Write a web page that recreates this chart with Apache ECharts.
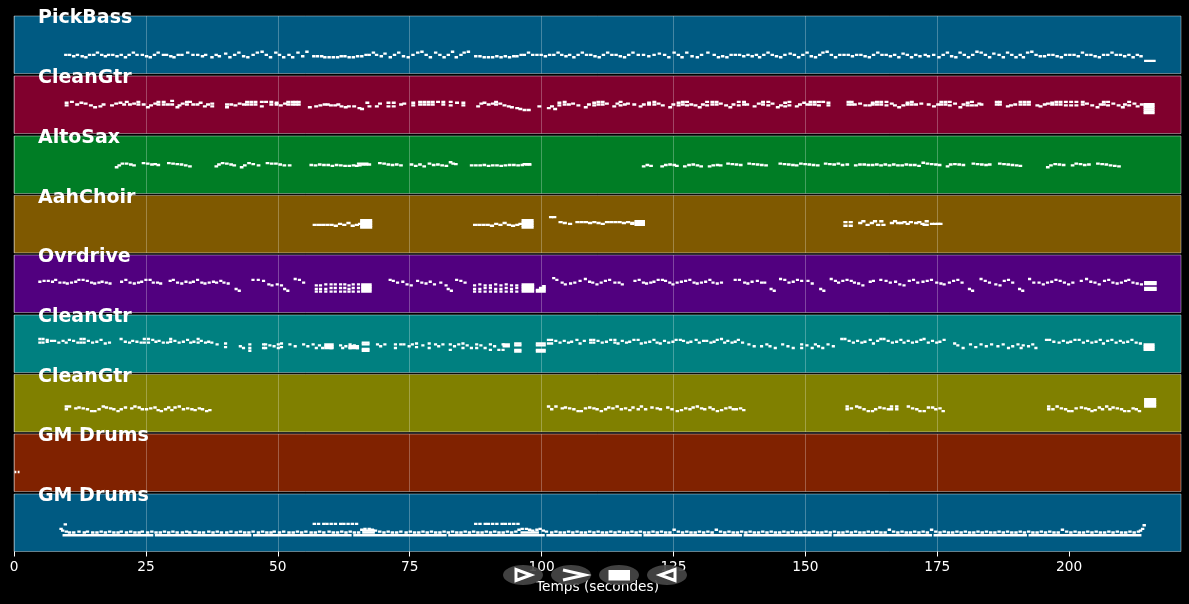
<!DOCTYPE html>
<html>
<head>
<meta charset="utf-8">
<title>Piano roll</title>
<style>
  html, body { margin: 0; padding: 0; background: #000; }
  #chart { width: 1189px; height: 604px; }
</style>
<script src="https://cdn.jsdelivr.net/npm/echarts@6/dist/echarts.min.js"></script>
</head>
<body>
<div id="chart"></div>
<script>
const trackNames = ['PickBass', 'CleanGtr', 'AltoSax', 'AahChoir', 'Ovrdrive', 'CleanGtr', 'CleanGtr', 'GM Drums', 'GM Drums'];
const trackColors = ['#005a82', '#80002d', '#007d25', '#7f5900', '#51007f', '#008080', '#808000', '#802200', '#005a82'];
const timeTicks = [0, 25, 50, 75, 100, 125, 150, 175, 200];
const xAxisTitle = 'Temps (secondes)';
// note length in seconds for the short notes of each track
const noteLengths = [0.65, 0.75, 0.7, 0.8, 0.6, 0.6, 0.65, 0.35, 0.65];

// short notes: [start, midi pitch]
const pickBassNotes = [
[9.5,41],[10.2,41],[11,38],[11.7,41],[12.6,38],[13.3,36],[14,41],[14.8,41],[15.5,46],[16.3,41],[17,38],[17.6,41],[18.4,41],[19.2,38],[20,41],[20.8,36],[21.5,41],[22.3,46],[23,41],[24,41],[24.8,38],[25.5,36],[26.3,41],[27,46],[28,41],[28.6,41],[29.4,38],[30,36],[30.8,41],[31.5,41],[32.6,46],[33.6,41],[34.5,41],[35.4,38],[36,41],[37.2,36],[38,41],[38.6,38],
[39.8,44],[40.6,36],[41.5,41],[42.3,46],[43.2,38],[44,36],[45,41],[45.8,46],[46.7,48],[47.5,41],[48.3,36],[49.3,46],[50,41],[50.8,36],[51.8,41],[52.5,36],[53.5,46],[54.4,38],[55.2,48],
[56.5,38],[57.2,38],[58,38],[58.6,36],[59.4,36],[60.2,36],[61,36],[61.7,38],[62.4,38],[63.2,36],[64,36],[64.8,38],[65.6,38],[66.4,41],[67,41],[67.8,46],[68.4,41],
[69.3,38],[70,44],[71,36],[71.8,41],[72.6,46],[73.5,38],[74.4,36],[75.3,41],[76.2,46],[77,48],[77.8,41],[78.6,36],[79.6,46],[80.4,41],[81.2,36],[82,41],[82.8,48],[83.5,36],[84.4,41],[85,46],[85.8,48],
[87.2,38],[88,38],[88.8,36],[89.6,36],[90.4,36],[91.2,38],[92,36],[92.8,38],[93.6,36],[94.4,38],[95,38],[95.8,41],[96.4,41],[97.2,46],
[98,41],[98.8,41],[99.6,41],[100.4,38],[101.2,41],[102,41],[102.8,46],[103.5,41],[104.3,38],[105,41],[105.8,36],[106.6,41],[107.4,46],[108.2,41],[109,41],[109.8,38],[110.6,36],[111.4,41],[112.2,46],[113,41],[113.8,41],[114.6,38],[115.4,36],[116.2,41],[117,46],[118,41],[119,41],[120,38],[121,41],
[122,44],[123,41],[123.8,36],[124.8,46],[125.6,41],[126.3,36],[127.2,46],[128.2,38],[129.2,36],[130,41],[131.2,46],[132.4,41],[133.2,36],
[134,38],[134.8,36],[135.6,41],[136.4,41],[137.2,41],[138,38],[138.8,41],[139.6,38],[140.4,41],[141,36],[141.8,41],[142.6,46],[143.4,41],[144.2,38],[145,36],[145.8,41],
[146.8,44],[147.6,41],[148.4,36],[149.2,41],[150,46],[150.8,38],[151.6,36],[152.4,41],[153,46],[153.8,48],[154.6,41],[155.4,36],
[156.2,41],[157,41],[157.8,41],[158.6,38],[159.4,41],[160.2,41],[161,38],[161.8,36],[162.6,41],[163.4,46],[164.2,41],[165,41],[165.8,38],[166.6,41],[167.4,36],
[168.2,44],[169,41],[169.8,36],[170.6,41],[171.4,38],[172.4,41],[173,38],[174,41],[175,36],[175.8,41],[176.6,46],[177.4,38],[178.2,36],[179,46],[179.8,41],[180.6,36],[181.4,41],[182.2,48],[183,46],[183.8,41],[184.6,36],[185.4,44],[186.4,41],[187.2,36],[188,46],[188.8,41],[189.6,36],[190.4,41],[191,36],[191.8,46],[192.6,48],[193.4,41],
[194.2,38],[195,38],[195.8,41],[196.6,41],[197.4,38],[198.2,36],[199,41],[199.8,41],[200.6,41],[201.4,38],[202.2,46],[203,41],[203.8,41],[204.6,38],[205.4,36],[206.2,41],[207,41],[207.8,46],[208.6,41],[209.4,41],[210.2,38],[211,41],[211.8,36],[212.6,41],[213.3,38]
];
const pickBassHolds = [[214.2,216.4,28]];

const crimsonGtrNotes = [
[9.6,68],[9.6,62],[10.6,70],[11.6,64],[12.4,68],[13.2,66],[14.2,62],[15,58],[16,60],[16.6,64],[18.2,62],[19,66],[19.8,68],[20.5,64],[21,70],[21.6,64],[22.4,66],[23.2,70],[23.2,64],[24.2,64],
[25,58],[25.6,62],[26.4,66],[27,70],[27,64],[28,70],[28,64],[28.8,64],[29.6,72],[29.6,64],[30.6,58],[31,62],[31.6,66],[32.4,70],[32.4,64],[33,70],[33.6,64],[34.4,64],[35,68],[35.8,60],[36.4,64],[37.2,66],[37.2,60],
[40,58],[40,64],[40.8,64],[41.6,62],[42.4,66],[43.2,64],[43.8,70],[43.8,64],[44.6,70],[44.6,64],[45.4,70],[45.4,64],[46.6,70],[46.6,60],[47.4,70],[48.4,70],[48.4,64],[49.4,68],[49.4,64],[50.2,62],[51,66],[51.6,70],[51.6,64],[52.4,70],[52.4,64],[53,70],[53,64],[53.6,70],[53.6,64],
[55.7,58],[56.9,60],[57.7,62],[58.5,64],[59.1,64],[59.7,62],[60.5,62],[61.1,64],[61.7,60],[62.5,58],[63.1,60],[64.1,60],[65.1,56],[65.6,54],[66.6,68],[67,60],
[68.4,60],[69,66],[70.6,68],[70.6,60],[71.6,68],[71.6,60],[73,64],[73.6,66],[75.3,68],[75.3,62],[76.6,70],[76.6,64],[77.4,70],[77.4,64],[78.2,70],[78.2,64],[79,70],[79,64],[80,70],[81,70],[81,64],[82.4,70],[82.4,62],[83.6,68],[84.8,68],[84.8,62],
[87.6,60],[88.2,66],[88.8,68],[89.6,64],[90.4,66],[91,70],[91,64],[91.8,66],[92.6,62],[93.4,60],[94,58],[95,56],[95.6,54],[96.4,52],[97.2,52],[99.2,60],
[101,56],[101.6,60],[102.2,54],[103,68],[103,62],[104,70],[104,64],[104.8,64],[105.6,66],[106.6,62],[108,58],[108.6,64],[109.6,68],[109.6,62],[110.4,70],[110.4,64],[111.2,70],[111.2,64],[112,66],[113.4,60],[114,66],[114.6,70],[114.6,62],[115.4,64],[116,66],[117.2,64],[118.4,60],[119,64],[120,68],[120,64],[121,70],[121,64],[121.8,66],[122.6,62],
[124,58],[124.6,64],[125.6,68],[125.6,62],[126.4,70],[126.4,64],[127.2,70],[127.2,62],[128,64],[128.8,62],[129.6,58],[130.2,64],[131,70],[131,62],[132,70],[132,64],[132.8,70],[132.8,64],[133.6,66],[134.6,62],[135.4,58],[136,64],[137,70],[137,62],[138,70],[138,64],[138.6,64],[140,60],[140.8,66],[141.6,70],[141.6,64],[142.6,70],[142.6,62],[143.4,66],[144.4,58],[145,62],[145.8,68],[145.8,60],[146.6,70],[146.6,62],
[148,60],[148.6,64],[149.4,68],[150,64],[150.6,70],[150.6,64],[151.4,70],[151.4,64],[152.2,70],[152.2,62],[153,70],[154,68],[154,62],
[157.8,70],[157.8,64],[158.4,70],[158.4,64],[159,64],[160,66],[161,62],[161.8,62],[162.4,68],[162.4,64],[163.2,70],[163.2,64],[164,70],[164,64],[165,70],[165,62],[166,66],[166.6,62],[167.4,58],[168.2,62],[169,68],[169,64],[169.8,70],[169.8,64],[170.6,64],[171.6,66],[173,64],[174,60],[174.8,64],[175.4,70],[175.4,64],[176.2,70],[176.2,64],[177,70],[177,62],[178,66],[179,58],[179.6,64],[180.4,68],[180.4,62],[181.2,70],[181.2,62],[182,62],[182.6,66],[183,64],
[185.9,70],[185.9,64],[186.5,70],[186.5,64],[188,60],[188.6,62],[189.4,64],[190.4,70],[190.4,64],[191.2,70],[191.2,64],[192,70],[192,64],[193.6,62],[194.2,60],[195,64],[195.6,66],[196.4,68],[196.4,64],[197.2,70],[197.2,64],[198,70],[198,64],[199,70],[199,62],[200,70],[200,62],[201,70],[201,62],[202.2,70],[202.2,64],[203,66],[204,62],[205,58],[205.6,64],[206.2,70],[206.2,64],[207,70],[207,62],[208,66],[209,62],[209.8,58],[210.2,64],[211,70],[211,62],[212,66],[212.6,60],[213.4,64]
];
const crimsonGtrHolds = [[214.1,216.2,45],[214.1,216.2,49],[214.1,216.2,53],[214.1,216.2,57],[214.1,216.2,61],[214.1,216.2,65]];

const altoSaxNotes = [
[19.1,58],[19.6,62],[20.2,66],[21,66],[21.8,64],[22.4,62],[24.2,67],[25,66],[25.8,64],[26.4,65],[27,63],[29,67],[29.8,66],[30.6,65],[31.4,64],[32.2,62],[33,60],
[38,60],[38.5,64],[39.2,67],[40,66],[40.8,64],[41.4,62],[42.8,58],[43.4,62],[44.2,67],[45,65],[46,62],[47.7,67],[48.5,66],[49.3,66],[50.1,64],[50.9,62],[51.9,62],
[56,63],[56.8,62],[57.6,64],[58.4,63],[59.2,63],[60,61],[60.8,63],[61.6,62],[62.4,61],[63.2,61],[64,62],[64.6,61],[65.2,62],[65.8,64],[66.4,64],[67,64],
[69,67],[69.8,66],[70.6,64],[71.4,63],[72.2,64],[73,62],[75,64],[75.8,61],[76.6,64],[77.4,60],[78.4,66],[79.2,63],[80,64],[80.8,62],[81.6,61],[82.4,69],[82.9,66],
[83.4,65],[86.4,62],[87.2,62],[88,62],[88.8,63],[89.6,61],[90.4,62],[91.2,62],[92,61],[92.8,62],[93.6,63],[94.4,63],[95.2,62],[96,63],[96.8,64],[97.4,64],
[119,60],[119.7,63],[120.4,61],[122.5,60],[123.2,63],[124,64],[124.8,63],[125.3,61],[126.8,60],[127.6,63],[128.4,64],[129.2,62],[129.9,60],[131.5,60],[132.2,62],[133,63],[133.6,62],
[135,66],[135.8,65],[136.6,64],[137.4,63],[139,66],[139.8,65],[140.6,64],[141.4,63],[142.2,62],[144.9,66],[145.7,65],[146.5,64],[147.3,63],[148,62],
[148.8,66],[149.6,65],[150.4,64],[151.2,63],[152,62],[153.5,66],[154.3,65],[155.1,64],[155.9,66],[156.7,63],[157.6,64],
[159.2,62],[160,64],[160.8,64],[161.6,63],[162.4,63],[163.2,64],[164,62],[164.8,64],[165.6,62],[166.4,64],[167.2,62],[168,62],[168.8,64],[169.6,63],[170.4,63],[171.2,61],
[172,68],[172.8,66],[173.6,65],[174.4,64],[175.1,63],[176.6,60],[177.2,64],[178,65],[178.8,64],[179.6,63],[181.5,66],[182.3,65],[183.1,64],[183.9,63],[184.6,64],[186.5,66],[187.3,65],[188.1,64],[188.9,63],[189.7,62],[190.4,61],
[195.6,58],[196.2,62],[197,65],[197.8,64],[198.6,63],[200.3,62],[201,66],[201.8,65],[202.6,63],[203.4,64],[205.1,66],[205.9,65],[206.7,64],[207.5,62],[208.3,61],[209.1,60]
];
const altoSaxHolds = [[65,67.2,66],[96.4,98,65]];

const aahChoirNotes = [
[56.6,62],[57.4,62],[58.2,62],[59,62],[59.8,62],[60.6,60],[61.4,64],[62.2,62],[63,66],[63.8,60],[64.6,62],[65.2,64],
[87,62],[87.8,62],[88.6,62],[89.4,62],[90.2,60],[91,64],[91.8,62],[92.6,66],[93.4,62],[94.2,60],[95,62],[95.6,64],
[101.4,79],[102,79],[103.2,68],[104,66],[105,64],[106.4,68],[107.2,68],[108,68],[108.8,66],[109.6,68],[110.4,66],[111.2,64],[112,68],[112.8,68],[113.6,68],[114.4,68],[115.2,66],[116,68],[116.8,66],
[157.2,68],[157.2,60],[158.2,68],[158.2,60],[160,66],[160.6,70],[161.4,62],[162.2,66],[162.8,70],[163.4,62],[164,70],[164.4,62],[166,66],[166.6,70],[167.2,66],[167.8,66],[168.4,68],[169,64],[169.6,68],[170.6,66],[171.2,68],[171.8,64],[172.2,62],[172.6,70],[172.6,62],[173.6,64],[174.2,64],[174.8,64],[175.2,64]
];
const aahChoirHolds = [[65.6,67.9,56],[65.6,67.9,60],[65.6,67.9,64],[65.6,67.9,68],[65.6,67.9,72],[96.2,98.5,56],[96.2,98.5,60],[96.2,98.5,64],[96.2,98.5,68],[96.2,98.5,72],[116.8,117.6,64],[117.6,119.6,62],[117.6,119.6,66],[117.6,119.6,70]];

const ovrdriveNotes = [
[4.6,68],[5.4,70],[6.2,70],[7,68],[7.6,72],[8.4,66],[9.2,66],[9.8,64],[10.6,66],[11.4,68],[12,72],[12.8,72],[13.6,70],[14.4,66],[15,64],[15.8,66],[16.4,68],[17.2,66],[17.9,64],
[20.1,68],[20.9,72],[21.7,66],[22.5,64],[23.3,66],[23.9,68],[24.7,72],[25.5,72],[26.1,66],[26.9,66],[27.5,64],[29.3,70],[29.9,72],[30.7,66],[31.5,64],[32.3,68],[33.1,66],[33.7,68],[34.5,72],[35.3,66],[35.9,64],[36.7,66],[37.5,68],[38.1,66],[38.9,70],[39.5,66],[40.3,64],
[41.8,52],[42.4,48],[45,72],[46,72],[47,70],[48,62],[48.6,60],[49.6,62],[50.4,60],[51,52],[51.6,48],[53,74],[53.8,72],[54.6,66],
[57,60],[57,52],[57,46],[57.8,60],[57.8,52],[57.8,46],[58.8,62],[58.8,52],[58.8,46],[59.8,62],[59.8,54],[59.8,46],[60.6,62],[60.6,54],[60.6,46],[61.6,62],[61.6,54],[61.6,46],[62.4,62],[62.4,54],[62.4,46],[63.2,60],[63.2,52],[63.2,46],[64,62],[64,54],[64,46],[65,62],[65,54],[65,46],
[71,72],[71.6,70],[72.4,66],[73.4,68],[74.2,62],[75,60],[76.2,70],[77,66],[77.8,64],[78.6,68],[79.4,62],[80.6,66],[81.6,60],[82,52],[82.6,48],[83.6,72],[84.4,70],[85.2,66],
[87,60],[87,52],[87,46],[88,62],[88,52],[88,46],[89,60],[89,54],[89,46],[90,60],[90,54],[90,46],[91,62],[91,52],[91,46],[92,60],[92,52],[92,46],[93,62],[93,54],[93,46],[94,60],[94,52],[94,46],[95,60],[95,54],[95,46],
[102,76],[102.6,72],[103.6,66],[104.2,62],[105.2,64],[106,66],[107,70],[108,74],[108.8,68],[109.4,66],[110.2,62],[111,66],[111.8,70],[112.6,72],[113.6,66],[114.4,66],[115,62],[117.4,70],[118.2,72],[119,66],[119.6,64],[120.4,66],[121,68],[121.8,72],[122.6,72],[123.2,70],[124,66],[124.6,62],[125.4,66],[126.2,68],[127,70],[127.8,72],[128.6,66],[129.2,64],[130,66],[130.8,68],[131.6,72],[132.2,66],[133,64],[133.8,66],
[136.4,72],[137.2,72],[138.2,66],[138.8,64],[139.6,68],[140.6,70],[141.4,66],[142,66],[143.2,52],[143.8,48],[145,74],[145.8,72],[146.6,66],[147.4,68],[148.2,72],[149,70],[150.2,70],[151,64],[152.6,52],[153.2,48],[154.6,74],[155.4,70],[156,66],[156.8,70],[157.6,72],[158.4,70],[159,66],[159.8,64],[160.6,60],
[162,68],[162.6,70],[164,72],[165,70],[165.8,66],[166.8,68],[167.6,62],[168.4,60],[169.4,70],[170.2,72],[171,66],[172,68],[172.8,70],[173.6,72],[174.6,66],[175.4,64],[176,62],[177,66],[177.8,70],[178.6,72],[179.4,66],[180.8,52],[181.4,48],
[183,74],[183.8,70],[184.6,66],[185.8,62],[186.6,60],[187.4,70],[188.2,72],[189,66],[190.3,52],[190.9,48],[192.2,74],[193,66],[194,66],[194.8,62],[195.6,66],[196.4,68],[197.2,72],[198,70],[198.8,66],[199.6,62],[200.4,66],
[202,70],[203,74],[203.8,68],[204.6,66],[205.4,62],[206.4,70],[207.2,72],[208,66],[208.8,64],[209.6,66],[210.4,70],[211,72],[211.8,66],[212.6,64],[213.4,62]
];
const ovrdriveHolds = [[65.8,67.8,46],[65.8,67.8,50],[65.8,67.8,54],[65.8,67.8,58],[65.8,67.8,62],[96.2,98.6,46],[96.2,98.6,50],[96.2,98.6,54],[96.2,98.6,58],[96.2,98.6,62],[98.9,100.8,46],[98.9,100.8,50],[99.5,100.8,54],[100.1,100.8,58],[214.2,216.6,50],[214.2,216.6,54],[214.2,216.6,63],[214.2,216.6,67]];

const tealGtrNotes = [
[4.6,74],[4.6,66],[5.2,74],[5.2,66],[6,72],[6,68],[6.8,70],[7.4,70],[8.2,66],[9,70],[9.6,66],[10.2,72],[11,70],[11.8,66],[12.4,74],[12.4,66],[13,74],[13,66],[13.8,70],[14.6,66],[15.4,68],[16.2,72],[17,64],[17.8,66],
[20,74],[20.8,68],[21.6,66],[22.2,70],[23,68],[23.8,66],[24.4,74],[24.4,66],[25.2,74],[25.2,66],[26,72],[26.6,68],[27.2,70],[28,66],[28.8,66],[29.4,74],[29.4,68],[30.2,70],[31,66],[31.8,68],[32.6,72],[33.2,66],[33.8,68],[34.6,74],[34.6,66],[35.2,70],[36,66],[36.6,68],[37.2,66],[38.2,62],[39.8,64],[39.8,56],
[42.6,58],[43.2,54],[44.4,62],[44.4,54],[44.4,48],[47,62],[47,54],[47.4,62],[47.4,54],[48.2,60],[49,58],[49.8,62],[49.8,54],[50.4,64],[50.4,56],[52,62],[53,58],[54.6,62],[55.4,58],[56.4,62],[57,54],[57.6,60],[58.2,54],[59,58],[59.8,54],[61.6,60],[62,54],[62.6,58],[63.4,62],[63.4,54],[64.2,60],[64.8,54],
[68.6,62],[69.2,58],[70,62],[72,62],[72,54],[73,62],[73.6,62],[74.6,58],[75.2,62],[76,64],[76,56],[77.2,60],[78.4,64],[78.4,54],[79.6,62],[80.2,58],[81,62],[82.4,62],[82.4,50],[83.2,58],[84,62],[84.8,64],[84.8,54],[85.6,60],[86.4,54],[87.4,62],[87.4,54],[88.2,60],[89,54],[90,62],[90,50],[90.8,58],[91.6,50],[92.4,62],[92.4,50],
[101,72],[101,64],[101.6,72],[101.6,64],[102.4,70],[103.2,66],[104,70],[104.8,66],[105.4,68],[106.4,72],[107,64],[107.8,70],[109,72],[109,66],[109.6,72],[109.6,66],[110.4,70],[111.2,66],[112,68],[112.8,72],[113.6,72],[113.6,66],[114.2,64],[115,70],[115.8,66],[116.4,68],[117.2,72],[118,72],[118.6,64],[119.4,66],[120.2,68],[121,72],[121.6,66],[122.2,64],[123,70],[123.8,66],[124.6,68],[125.2,72],[126,72],[126.6,70],[127.4,66],[128,68],[129,72],[129.6,66],[130.4,70],[131,70],[131.8,66],[132.4,68],[133,72],[133.8,74],[134.4,66],[135,70],[135.8,66],[136.4,68],[137,72],[137.8,66],
[139,62],[140,58],[141.4,58],[142.4,62],[143,58],[144,54],[145.4,62],[146.4,58],[147.4,54],[149,62],[149,54],[150,60],[151,54],[151.6,62],[152.2,58],[153,54],[154,62],[155,58],
[156.6,74],[157.2,74],[158,70],[158.8,66],[159.6,70],[160.4,66],[161,68],[162,72],[162.6,64],[163.4,70],[164,74],[164.6,74],[165.4,70],[166.2,66],[167,68],[167.8,72],[168.4,66],[169.2,70],[170,66],[170.8,68],[171.6,72],[172.2,74],[173,66],[173.8,70],[174.6,66],[175.2,68],[176,72],
[178,64],[178.6,60],[179.6,54],[181,62],[182,56],[183,62],[184,58],[185,62],[186.2,58],[187.2,62],[188.2,54],[189,58],[190,62],[190.6,54],[191,60],[192,58],[192.8,62],[193.4,54],
[195.4,72],[196,72],[196.8,68],[197.8,66],[198.6,70],[199.4,66],[200,68],[200.8,72],[201.6,72],[202.4,66],[203.2,70],[204,66],[204.8,68],[205.6,72],[206.2,64],[207,70],[207.8,72],[208.6,66],[209.4,70],[210,66],[210.8,68],[211.6,72],[212.4,66],[213.2,64]
];
const tealGtrHolds = [[58.8,60.6,54],[58.8,60.6,58],[58.8,60.6,62],[63.4,65.4,54],[63.4,65.4,58],[65.9,67.4,62],[65.9,67.4,66],[65.9,67.4,48],[65.9,67.4,52],[92.6,94,58],[92.6,94,62],[94.8,96.2,60],[94.8,96.2,64],[94.8,96.2,50],[94.8,96.2,46],[98.9,100.8,60],[98.9,100.8,64],[98.9,100.8,50],[98.9,100.8,46],[214.1,216.2,50],[214.1,216.2,54],[214.1,216.2,58],[214.1,216.2,62]];

const oliveGtrNotes = [
[9.6,56],[9.6,50],[10.2,56],[11.4,52],[12,54],[12.8,52],[13.6,50],[14.4,46],[15,46],[15.8,50],[16.6,56],[17.2,54],[18,52],[18.6,50],[19.4,46],[20,50],[20.8,54],[22,52],[22.6,56],[23.4,54],[24,50],[24.8,50],[25.6,52],[26.4,54],[27,48],[27.6,46],[28.4,50],[29,54],[29.6,48],[30.2,54],[31,56],[31.8,50],[32.6,52],[33.4,50],[34,48],[34.8,52],[35.4,50],[36.2,46],[36.8,48],
[101,56],[101.6,50],[102.4,56],[103.6,52],[104.2,54],[105,52],[105.8,50],[106.6,46],[107.2,46],[108,52],[108.8,54],[109.6,52],[110.2,50],[111,46],[111.8,50],[112.4,54],[113.2,52],[114,56],[114.8,50],[115.6,52],[116.4,48],[117,54],[118,50],[118.6,56],[119.4,50],[120.6,54],[121.6,52],[122.2,50],[123.6,54],[124.4,50],[125.4,46],[126.2,48],[127,52],[127.8,50],[128.4,54],[129.2,56],[130,52],[130.6,50],[131.6,54],[132.2,50],[133,46],[133.8,48],[134.6,52],[135.4,54],[136,50],[136.6,50],[137.4,52],[138,48],
[157.6,56],[157.6,50],[158.4,52],[159.4,56],[160,54],[160.8,50],[161.6,46],[162.4,46],[163,50],[163.8,54],[164.6,52],[165.4,50],[166,56],[166,50],[167,56],[167,50],
[169.2,56],[170,52],[170.8,50],[171.4,46],[172.2,46],[173,54],[173.8,54],[174.4,50],[175.2,52],[175.8,46],
[195.8,56],[195.8,50],[196.6,50],[197.4,56],[198.2,52],[199,50],[199.6,46],[200.2,46],[201,52],[202,54],[202.8,52],[203.4,50],[204,46],[204.6,48],[205.4,54],[206,50],[206.8,56],[207.4,50],[208,54],[208.8,52],[209.6,50],[210.2,46],[211,46],[211.8,52],[212.4,50],[213,46]
];
const oliveGtrHolds = [[214.2,216.5,56],[214.2,216.5,60],[214.2,216.5,64],[214.2,216.5,68],[214.2,216.5,72]];

const upperDrumNotes = [[0.1,43],[0.7,43]];

const lowerDrumNotes = [
[8.6,50],[8.9,46],[9.4,60],[9.6,44],[10.2,42],[11,42],[12,44],[13,42],[13.6,44],[14.6,42],[15.4,42],[16.2,44],[17,42],[17.8,44],[18.6,42],[19.4,42],[20,44],[21,42],[21.8,44],[22.6,42],[23.4,42],[24,44],[25,42],[25.8,44],[26.6,42],[27.4,42],[28.2,44],[29,42],[29.8,44],[30.6,42],[31.6,42],[32.4,44],[33,42],[34,44],[34.8,42],[35.6,42],[36.6,44],[37.4,42],[38.2,44],[39,42],[40,42],[40.8,44],[41.8,42],[42.6,44],[43.4,42],[44.2,42],[45,44],[46,42],[46.8,44],[47.6,42],[48.4,42],[49,44],[50,42],[50.8,44],[51.8,42],[52.6,42],[53.4,44],[54.2,42],[55,44],[56,42],[56.8,42],[57.6,44],[58.4,42],[59.4,44],[60.2,42],[61,42],[61.8,44],[62.6,42],[63.4,44],[64.2,42],[65,42],[65.6,48],[66.2,50],[67,50],[67.6,48],[68.2,46],[69,44],[69.8,42],[70.6,44],[71.4,42],[72.2,42],[73,44],[74,42],[74.8,44],[75.6,42],[76.4,42],[77.2,44],[78,42],[78.8,44],[79.6,42],[80.4,42],[81.2,44],[82,42],[82.8,44],[83.6,42],[84.4,42],[85.2,44],[86,42],[86.8,44],[87.6,42],[88.4,42],[89.2,44],[90,42],[90.8,44],[91.6,42],[92.4,42],[93.2,44],[94,42],[94.8,44],[95.4,48],[96,50],[96.8,50],[97.4,48],[98,46],[98.8,48],[99.4,50],[100,46],[100.6,44],
[101.6,42],[102.4,44],[103.2,42],[104,42],[104.8,44],[105.6,42],[106.4,44],[107.2,42],[108,42],[108.8,44],[109.6,42],[110.4,44],[111.2,42],[112,42],[112.8,44],[113.6,42],[114.4,44],[115.2,42],[116,42],[116.8,44],[117.6,42],[118.4,44],[119.2,42],[120,42],[120.8,44],[121.6,42],[122.4,44],[123.2,42],[124,42],[124.8,48],[125.6,44],[126.4,42],[127.2,44],[128,42],[128.8,42],[129.6,44],[130.4,42],[131.2,44],[132,42],[132.8,48],[133.6,44],[134.4,42],[135.2,44],[136,42],[136.8,42],[137.6,44],[138.4,42],[139.2,44],[140,42],[140.8,42],[141.6,44],[142.4,42],[143.2,44],[144,42],[144.8,42],[145.6,44],[146.4,42],[147.2,44],[148,42],[148.8,42],[149.6,44],[150.4,42],[151.2,44],[152,42],[152.8,42],[153.6,44],[154.4,42],[155.2,44],[156,42],[156.8,42],[157.6,44],[158.4,42],[159.2,44],[160,42],[160.8,42],[161.6,44],[162.4,42],[163.2,44],[164,42],[164.8,42],[165.6,48],[166.4,44],[167.2,42],[168,44],[168.8,42],[169.6,42],[170.4,44],[171.2,42],[172,44],[172.8,42],[173.6,48],[174.4,44],[175.2,42],[176,44],[176.8,42],[177.6,42],[178.4,44],[179.2,42],[180,44],[180.8,42],[181.6,42],[182.4,44],[183.2,42],[184,44],[184.8,42],[185.6,42],[186.4,44],[187.2,42],[188,44],[188.8,42],[189.6,42],[190.4,44],[191.2,42],[192,44],[192.8,42],[193.6,42],[194.4,44],[195.2,42],[196,44],[196.8,42],[197.6,42],[198.4,48],[199.2,44],[200,42],[200.8,44],[201.6,42],[202.4,42],[203.2,44],[204,42],[204.8,44],[205.6,42],[206.4,42],[207.2,44],[208,42],[208.8,44],[209.6,42],[210.4,42],[211.2,44],[212,42],[212.8,44],[213.2,46],[213.6,50],[213.9,58],
[56.6,61],[57.4,61],[58.4,61],[59,61],[59.8,61],[60.6,61],[61.6,61],[62.2,61],[63,61],[63.8,61],[64.6,61],[87.2,61],[88,61],[89,61],[89.6,61],[90.4,61],[91.2,61],[92.2,61],[92.8,61],[93.6,61],[94.4,61],[95.2,61]
];
const lowerDrumHolds = [[9.2,26.4,36],[26.7,45,36],[45.3,64,36],[64.3,82,36],[82.3,100.6,36],[100.9,119,36],[119.3,138,36],[138.3,155,36],[155.3,174,36],[174.3,192,36],[192.3,213.7,36],[96,99.5,42],[66,68.4,42],[66,68.4,46]];

const trackNotes = [pickBassNotes, crimsonGtrNotes, altoSaxNotes, aahChoirNotes, ovrdriveNotes, tealGtrNotes, oliveGtrNotes, upperDrumNotes, lowerDrumNotes];
const trackHolds = [pickBassHolds, crimsonGtrHolds, altoSaxHolds, aahChoirHolds, ovrdriveHolds, tealGtrHolds, oliveGtrHolds, [], lowerDrumHolds];

const panelTops = [16, 76, 136, 195.4, 255, 315, 374.4, 434, 494];
const panelHeight = 57.5;

const chart = echarts.init(document.getElementById('chart'), null, { renderer: 'canvas' });

// every note is a small white box, placed through the axes of its panel
const drawNote = (params, api) => {
  const topLeft = api.coord([api.value(0), api.value(2) + 2.6]);
  const bottomRight = api.coord([api.value(1), api.value(2) - 2.6]);
  return {
    type: 'rect',
    shape: { x: topLeft[0], y: topLeft[1], width: bottomRight[0] - topLeft[0], height: bottomRight[1] - topLeft[1] },
    style: { fill: '#fff' }
  };
};

const pill = (cx) => ({
  type: 'ellipse', z: 100, silent: true,
  shape: { cx: cx, cy: 575, rx: 20, ry: 10 },
  style: { fill: 'rgba(70,70,70,0.92)' }
});
const outline = (points, closed) => ({
  type: closed ? 'polygon' : 'polyline', z: 101, silent: true,
  shape: { points: points },
  style: { fill: closed ? null : 'none', stroke: '#fff', lineWidth: 3 }
});

const option = {
  backgroundColor: '#000',
  animation: false,
  textStyle: { fontFamily: 'DejaVu Sans' },
  title: trackNames.map((name, i) => ({
    text: name, left: 38, top: panelTops[i] - 7, padding: 0, z: 20,
    textStyle: { color: '#fff', fontFamily: 'DejaVu Sans', fontWeight: 'bold', fontSize: 19 }
  })),
  grid: trackNames.map((name, i) => ({
    left: 14, right: 8, top: panelTops[i], height: panelHeight,
    show: true, backgroundColor: trackColors[i], borderColor: 'rgba(255,255,255,0.4)', borderWidth: 1
  })),
  xAxis: trackNames.map((name, i) => {
    const last = i === trackNames.length - 1;
    return {
      gridIndex: i, type: 'value', min: 0, max: 221.2, interval: 25,
      axisLine: { show: false },
      axisTick: { show: last, length: 5, lineStyle: { color: '#fff' }, customValues: timeTicks },
      axisLabel: { show: last, color: '#fff', fontSize: 13.7, margin: 9, customValues: timeTicks },
      splitLine: { show: true, showMaxLine: false, lineStyle: { color: 'rgba(255,255,255,0.27)', width: 1 } },
      name: last ? xAxisTitle : '', nameLocation: 'middle', nameGap: 29,
      nameTextStyle: { color: '#fff', fontSize: 13.7 }
    };
  }),
  yAxis: trackNames.map((name, i) => ({
    gridIndex: i, type: 'value', min: 0, max: 127, show: false
  })),
  series: trackNames.map((name, i) => ({
    type: 'custom', name: name, xAxisIndex: i, yAxisIndex: i, silent: true, clip: true,
    renderItem: drawNote,
    encode: { x: [0, 1], y: 2 },
    data: trackNotes[i].map(n => [n[0], n[0] + noteLengths[i], n[1]]).concat(trackHolds[i])
  })),
  graphic: [
    pill(523), pill(571), pill(619), pill(667),
    outline([[516, 569.5], [531, 575], [516, 580.5]], true),
    outline([[563, 570], [585, 575], [563, 580]], false),
    { type: 'rect', z: 101, silent: true, shape: { x: 608.5, y: 570, width: 21.5, height: 10.5 }, style: { fill: '#fff' } },
    outline([[675, 569.5], [660, 575], [675, 580.5]], true)
  ]
};
chart.setOption(option);
</script>
</body>
</html>
